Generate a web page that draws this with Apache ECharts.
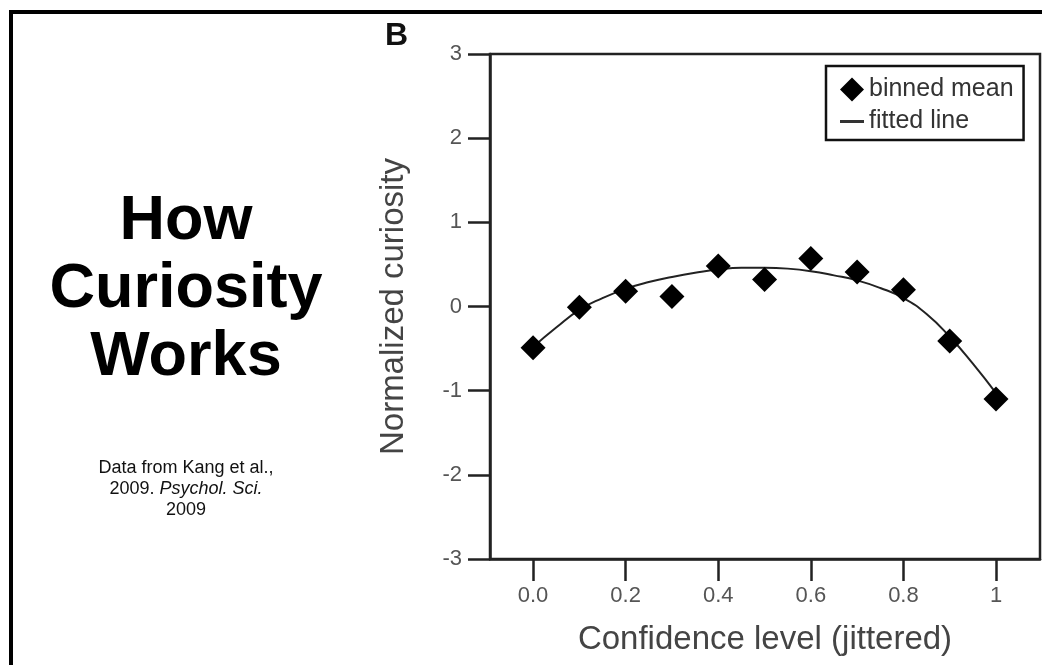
<!DOCTYPE html>
<html>
<head>
<meta charset="utf-8">
<script src="https://cdn.jsdelivr.net/npm/echarts@6/dist/echarts.min.js"></script>
<style>
html,body{margin:0;padding:0;background:#fff;}
#chart{width:1042px;height:665px;}
</style>
</head>
<body>
<div id="chart"></div>
<script>
// ---- data ----
const confidenceBins = [0, 0.1, 0.2, 0.3, 0.4, 0.5, 0.6, 0.7, 0.8, 0.9, 1.0];
const binnedMean     = [-0.49, -0.01, 0.18, 0.12, 0.48, 0.32, 0.57, 0.41, 0.20, -0.41, -1.10];
const fitX = [0, 0.05, 0.1, 0.15, 0.2, 0.25, 0.3, 0.35, 0.4, 0.45, 0.5, 0.55, 0.6, 0.65, 0.7, 0.75, 0.8, 0.85, 0.9, 0.95, 1.0];
const fitY = [-0.48, -0.25, -0.04, 0.10, 0.21, 0.29, 0.35, 0.40, 0.44, 0.46, 0.46, 0.45, 0.42, 0.37, 0.31, 0.22, 0.10, -0.09, -0.36, -0.68, -1.03];
const xTickValues = [0, 0.2, 0.4, 0.6, 0.8, 1];
const xTickLabels = ['0.0', '0.2', '0.4', '0.6', '0.8', '1'];
const seriesNames = ['binned mean', 'fitted line'];
const titleLines = ['How', 'Curiosity', 'Works'];
const sourceLines = ['Data from Kang et al.,', '2009. {i|Psychol. Sci.}', '2009'];

const chart = echarts.init(document.getElementById('chart'), null, {renderer: 'canvas'});
const FONT = '"Liberation Sans", Arial, Helvetica, sans-serif';

const graphics = [
  {type: 'rect', shape: {x: 11, y: 12, width: 1200, height: 800},
   style: {fill: 'none', stroke: '#000', lineWidth: 4}, silent: true},
  {type: 'text', x: 385, y: 36,
   style: {text: 'B', fontSize: 32, fontWeight: 'bold', fontFamily: FONT, fill: '#111',
           textAlign: 'left', textVerticalAlign: 'middle'}}
];
const titleY = [222, 290, 358];
titleLines.forEach((t, i) => graphics.push({
  type: 'text', x: 186, y: titleY[i],
  style: {text: t, fontSize: 63, fontWeight: 'bold', fontFamily: FONT, fill: '#000',
          textAlign: 'center', textVerticalAlign: 'middle'}
}));
const srcY = [468, 489, 510];
sourceLines.forEach((t, i) => graphics.push({
  type: 'text', x: 186, y: srcY[i],
  style: {text: t, fontSize: 18, fontFamily: FONT, fill: '#111',
          textAlign: 'center', textVerticalAlign: 'middle',
          rich: {i: {fontStyle: 'italic', fontSize: 18, fontFamily: FONT, fill: '#111'}}}
}));

const lineIcon = 'path://M0,0L0.01,0L0.01,0.01ZM0,10.5L24,10.5L24,13.5L0,13.5ZM23.99,23.99L24,23.99L24,24Z';
const AXIS = '#222';

chart.setOption({
  backgroundColor: '#fff',
  animation: false,
  graphic: graphics,
  grid: {left: 490, top: 54, right: 2, bottom: 106, show: true,
         borderColor: AXIS, borderWidth: 2.5, backgroundColor: 'transparent'},
  legend: {
    left: 826, top: 66, orient: 'vertical',
    padding: [11, 10, 6, 14], itemGap: 7, itemWidth: 24, itemHeight: 24,
    borderColor: '#111', borderWidth: 2.5,
    textStyle: {fontSize: 25, fontFamily: FONT, color: '#333'},
    data: [{name: seriesNames[0], icon: 'diamond', itemStyle: {color: '#000', opacity: 1}},
           {name: seriesNames[1], icon: lineIcon, itemStyle: {color: '#333', opacity: 1}}]
  },
  xAxis: {
    type: 'value', min: -0.093, max: 1.095,
    name: 'Confidence level (jittered)', nameLocation: 'middle', nameGap: 64,
    nameTextStyle: {fontSize: 33, fontFamily: FONT, color: '#444'},
    axisLine: {show: true, onZero: false, lineStyle: {color: AXIS, width: 2.5}},
    axisTick: {show: true, inside: false, length: 22, customValues: xTickValues,
               lineStyle: {color: AXIS, width: 2.5}},
    axisLabel: {customValues: xTickValues, margin: 26, fontSize: 22, fontFamily: FONT, color: '#555',
                formatter: v => { const k = xTickValues.findIndex(t => Math.abs(t - v) < 1e-9); return k >= 0 ? xTickLabels[k] : ''; }},
    splitLine: {show: false}
  },
  yAxis: {
    type: 'value', min: -3, max: 3, interval: 1,
    name: 'Normalized curiosity', nameLocation: 'middle', nameGap: 80, nameRotate: 90,
    nameTextStyle: {fontSize: 33, fontFamily: FONT, color: '#444'},
    axisLine: {show: true, onZero: false, lineStyle: {color: AXIS, width: 2.5}},
    axisTick: {show: true, inside: false, length: 22, lineStyle: {color: AXIS, width: 2.5}},
    axisLabel: {margin: 28, fontSize: 22, fontFamily: FONT, color: '#555'},
    splitLine: {show: false}
  },
  series: [
    {name: seriesNames[0], type: 'scatter', symbol: 'diamond', symbolSize: 25, z: 3,
     itemStyle: {color: '#000', opacity: 1},
     data: confidenceBins.map((x, i) => [x, binnedMean[i]])},
    {name: seriesNames[1], type: 'line', smooth: true, symbol: 'none', showSymbol: false, z: 2,
     lineStyle: {color: '#222', width: 2}, itemStyle: {color: '#222'},
     data: fitX.map((x, i) => [x, fitY[i]])}
  ]
});
</script>
</body>
</html>
